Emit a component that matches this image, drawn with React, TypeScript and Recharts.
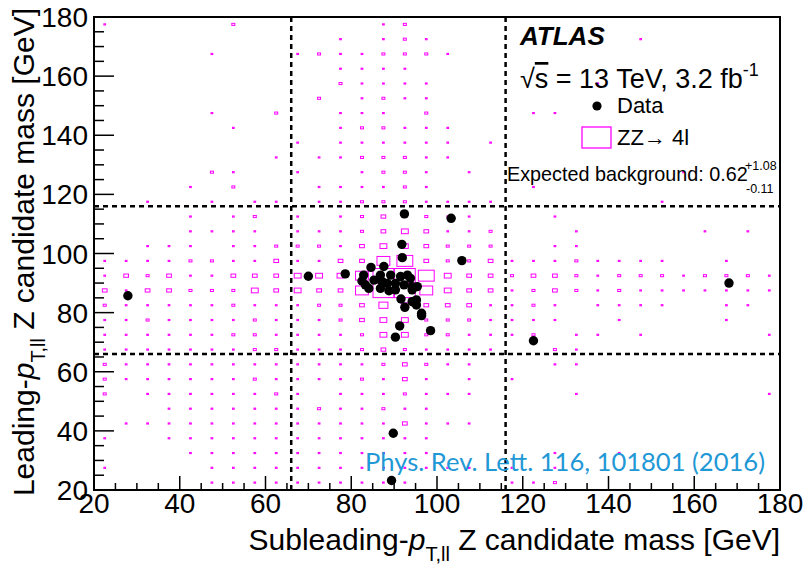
import React from 'react';
import { ScatterChart, Scatter, XAxis, YAxis, ReferenceLine, ReferenceArea } from 'recharts';

// ---------- data ----------
const X_DOMAIN: [number, number] = [20, 180];
const Y_DOMAIN: [number, number] = [20, 180];
const BIN = 5;
const FIRST_BIN_CENTER = 22.5;

const xTicks = [20, 25, 30, 35, 40, 45, 50, 55, 60, 65, 70, 75, 80, 85, 90, 95, 100, 105, 110, 115, 120, 125, 130, 135, 140, 145, 150, 155, 160, 165, 170, 175, 180];
const yTicks = [20, 25, 30, 35, 40, 45, 50, 55, 60, 65, 70, 75, 80, 85, 90, 95, 100, 105, 110, 115, 120, 125, 130, 135, 140, 145, 150, 155, 160, 165, 170, 175, 180];
const majorLabels = [20, 40, 60, 80, 100, 120, 140, 160, 180];
const cutValues = [66, 116];

// ZZ -> 4l expectation, 5 GeV bins; one string per row, top row (177.5 GeV) first.
// '.' = empty bin, digit = relative box size level
const mcRowsTopDown = [
  '1.....2......12.................',
  '...........1.121.........1......',
  '.....1...12112221...............',
  '...........1111.................',
  '...........21111.......1........',
  '..........2.1211................',
  '.....1..2..111.2....11..........',
  '......1....122111...............',
  '.........1.111111.1.............',
  '........1.1122211...............',
  '.....21..1..1221.1.........1....',
  '....1.2...111121....1...........',
  '..1..1.11.112221111.......1.....',
  '....1.12.1.1232211...1..........',
  '....1111.1112343112...1.....1.1.',
  '..111.1122213443222..11.........',
  '111122113113367322311121111..1..',
  '13231133344468874332332122212221',
  '31332224343368864331232121111111',
  '211111211122354333112' + '1.1111..11.',
  '112111121112344222111' + '1..1....1..',
  '111111221111244221112' + '.11.1.....1',
  '11111112211' + '12321111..' + '21.........',
  '21111111111' + '1123211...' + '11.........',
  '21111112111' + '12131.1.1.' + '...........',
  '2.11111121.' + '1112111...' + '.1........1',
  '...11111112' + '11211.....' + '...........',
  '.1111111111' + '1113111...' + '...........',
  '1..11111111' + '11111.....' + '...........',
  '....1111111' + '11111.....' + '1..1.......',
  '1....111111' + '1111111.1.' + '1..........',
  '.....111111' + '1111....11' + '2..........',
];

// observed events (subleading mass, leading mass) in GeV
const dataX = [27.9, 70.0, 78.6, 84.6, 87.6, 91.8, 91.9, 105.8, 103.3, 92.4, 82.9, 82.5, 83.3, 84.1, 86.8, 87.2, 86.8, 88.8, 90.3, 89.2, 90.3, 91.5, 92.3, 93.1, 93.8, 94.2, 95.4, 94.2, 88.4, 85.3, 91.6, 92.5, 94.2, 95.2, 95.2, 96.4, 96.4, 98.5, 91.3, 90.3, 89.8, 89.4, 122.5, 168.1];
const dataY = [85.7, 92.3, 93.1, 95.3, 95.6, 103.1, 98.6, 97.6, 111.9, 113.4, 92.7, 90.7, 89.4, 88.2, 92.7, 90.5, 88.2, 87.4, 87.7, 92.7, 89.9, 92.2, 89.4, 92.7, 91.6, 88.8, 88.8, 87.7, 89.9, 91.0, 84.6, 81.8, 83.7, 84.3, 82.6, 79.8, 79.0, 73.9, 75.5, 71.7, 39.2, 23.2, 70.5, 90.0];

// ---------- styling / layout ----------
const W = 807;
const H = 571;
const MARGIN = { top: 17, right: 27, bottom: 0, left: 0 };
const Y_AXIS_W = 94;
const X_AXIS_H = 81;
const PLOT_W = W - MARGIN.right - Y_AXIS_W;
const PLOT_H = H - MARGIN.top - X_AXIS_H;
const BIN_PX_W = (PLOT_W / (X_DOMAIN[1] - X_DOMAIN[0])) * BIN;
const BIN_PX_H = (PLOT_H / (Y_DOMAIN[1] - Y_DOMAIN[0])) * BIN;
const LEVEL_SCALE = [0, 0.08, 0.14, 0.22, 0.32, 0.42, 0.6, 0.74, 0.97];
const MAGENTA = '#ff00ff';
const FONT = '"Liberation Sans", Arial, Helvetica, sans-serif';

const nRows = mcRowsTopDown.length;
const mcData: { x: number; y: number; level: number }[] = [];
mcRowsTopDown.forEach((row, i) => {
  const rowIndex = nRows - 1 - i;
  row.split('').forEach((ch, col) => {
    if (ch !== '.') {
      mcData.push({ x: FIRST_BIN_CENTER + BIN * col, y: FIRST_BIN_CENTER + BIN * rowIndex, level: Number(ch) });
    }
  });
});
const obsData = dataX.map((x, i) => ({ x, y: dataY[i] }));

const MCBox = (props: any) => {
  const { cx, cy, payload } = props;
  if (cx == null || cy == null) return null;
  const s = LEVEL_SCALE[payload.level] || 0.08;
  const w = Math.max(1.6, s * BIN_PX_W);
  const h = Math.max(1.2, s * BIN_PX_H);
  return <rect x={cx - w / 2} y={cy - h / 2} width={w} height={h} fill="none" stroke={MAGENTA} strokeWidth={1} />;
};

const DataDot = (props: any) => {
  const { cx, cy } = props;
  if (cx == null || cy == null) return null;
  return <circle cx={cx} cy={cy} r={4.7} fill="#000" />;
};

const XTick = (props: any) => {
  const { x, y, payload } = props;
  const v = payload.value;
  const major = majorLabels.includes(v);
  return (
    <g>
      <line x1={x} x2={x} y1={y} y2={y - (major ? 14 : 7)} stroke="#000" strokeWidth={1.5} />
      {major && (
        <text x={x} y={y + 23} textAnchor="middle" fontSize={28} fontFamily={FONT} fill="#000">
          {v}
        </text>
      )}
    </g>
  );
};

const YTick = (props: any) => {
  const { x, y, payload } = props;
  const v = payload.value;
  const major = majorLabels.includes(v);
  return (
    <g>
      <line x1={x} x2={x + (major ? 20 : 10)} y1={y} y2={y} stroke="#000" strokeWidth={1.5} />
      {major && (
        <text x={x - 6} y={y} dy={10} textAnchor="end" fontSize={28} fontFamily={FONT} fill="#000">
          {v}
        </text>
      )}
    </g>
  );
};

export default function App() {
  return (
    <div style={{ position: 'absolute', left: 0, top: 0, width: W, height: H, background: '#fff' }}>
      <ScatterChart width={W} height={H} margin={MARGIN}>
        <XAxis
          type="number"
          dataKey="x"
          domain={X_DOMAIN}
          ticks={xTicks}
          interval={0}
          tick={<XTick />}
          tickLine={false}
          axisLine={false}
          tickSize={0}
          tickMargin={0}
          height={X_AXIS_H}
          allowDataOverflow
        />
        <YAxis
          type="number"
          dataKey="y"
          domain={Y_DOMAIN}
          ticks={yTicks}
          interval={0}
          tick={<YTick />}
          tickLine={false}
          axisLine={false}
          tickSize={0}
          tickMargin={0}
          width={Y_AXIS_W}
          allowDataOverflow
        />
        <Scatter data={mcData} shape={<MCBox />} isAnimationActive={false} />
        {cutValues.map((v) => (
          <ReferenceLine key={'vx' + v} x={v} stroke="#000" strokeWidth={2.5} strokeDasharray="5 4" />
        ))}
        {cutValues.map((v) => (
          <ReferenceLine key={'hy' + v} y={v} stroke="#000" strokeWidth={2.5} strokeDasharray="5 4" />
        ))}
        <ReferenceArea x1={X_DOMAIN[0]} x2={X_DOMAIN[1]} y1={Y_DOMAIN[0]} y2={Y_DOMAIN[1]} fill="none" fillOpacity={0} stroke="#000" strokeWidth={2} />
        <Scatter data={obsData} shape={<DataDot />} isAnimationActive={false} />
      </ScatterChart>
      <svg width={W} height={H} style={{ position: 'absolute', left: 0, top: 0, pointerEvents: 'none' }}>
        <g fontFamily={FONT} fill="#000">
          <text x={780} y={550} textAnchor="end" fontSize={30}>
            Subleading-<tspan fontStyle="italic">p</tspan>
            <tspan fontSize={20} dy={11}>T,ll</tspan>
            <tspan dy={-11}>{' Z candidate mass [GeV]'}</tspan>
          </text>
          <text x={34} y={8} transform="rotate(-90 34 8)" textAnchor="end" fontSize={30}>
            Leading-<tspan fontStyle="italic">p</tspan>
            <tspan fontSize={20} dy={11}>T,ll</tspan>
            <tspan dy={-11}>{' Z candidate mass [GeV]'}</tspan>
          </text>
          <text x={520} y={45} fontSize={26} fontWeight="bold" fontStyle="italic">ATLAS</text>
          <text x={520} y={88} fontSize={27}>
            √<tspan textDecoration="overline">s</tspan>{' = 13 TeV, 3.2 fb'}
            <tspan fontSize={18} dy={-12}>-1</tspan>
          </text>
          <circle cx={597} cy={106} r={4.6} fill="#000" />
          <text x={617} y={113} fontSize={22}>Data</text>
          <rect x={582} y={127} width={29} height={21} fill="none" stroke={MAGENTA} strokeWidth={1.3} />
          <text x={617} y={145} fontSize={22}>ZZ→ 4l</text>
          <text x={507} y={181} fontSize={19.8}>Expected background: 0.62</text>
          <text x={745} y={170} fontSize={12.5}>+1.08</text>
          <text x={746} y={193} fontSize={12.5}>-0.11</text>
        </g>
        <text x={365} y={471} fontSize={25} fontFamily="Lato, 'Open Sans', sans-serif" fill="#1f98d6" textLength={400} lengthAdjust="spacingAndGlyphs">
          Phys. Rev. Lett. 116, 101801 (2016)
        </text>
      </svg>
    </div>
  );
}
